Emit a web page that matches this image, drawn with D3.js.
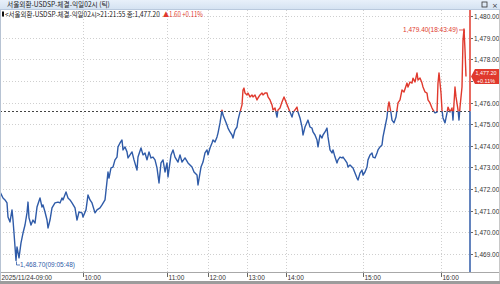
<!DOCTYPE html>
<html>
<head>
<meta charset="utf-8">
<script src="https://cdn.jsdelivr.net/npm/d3@7"></script>
<style>
  body { margin: 0; background: #fff; }
  svg { display: block; }
</style>
</head>
<body>
<svg id="chart" width="500" height="284"></svg>
<script>
// tick sequence number (x) and traded price (y)
var seq = [0, 30, 50, 70, 80, 100, 120, 130, 140, 160, 170, 190, 210, 230, 250, 270, 280, 290, 310, 330,
  350, 370, 400, 420, 430, 450, 470, 480, 500, 520, 550, 580, 600, 620, 630, 660, 680, 700, 720, 750,
  770, 790, 820, 830, 860, 880, 900, 920, 950, 970, 1000, 1020, 1050, 1080, 1090, 1110, 1130, 1150, 1170, 1180,
  1200, 1220, 1230, 1250, 1270, 1280, 1300, 1320, 1340, 1370, 1380, 1410, 1430, 1450, 1470, 1490, 1510, 1530, 1550, 1570,
  1590, 1610, 1630, 1650, 1670, 1680, 1710, 1730, 1750, 1780, 1800, 1820, 1850, 1880, 1920, 1940, 1970, 1980, 2010, 2030,
  2050, 2070, 2080, 2100, 2120, 2130, 2150, 2170, 2180, 2200, 2220, 2230, 2250, 2270, 2280, 2300, 2320, 2330, 2350, 2370,
  2380, 2400, 2420, 2430, 2440, 2450, 2470, 2480, 2500, 2520, 2530, 2550, 2570, 2580, 2600, 2620, 2630, 2650, 2670, 2680,
  2700, 2720, 2730, 2750, 2770, 2780, 2800, 2820, 2840, 2860, 2880, 2900, 2920, 2930, 2950, 2970, 2980, 3000, 3020, 3030,
  3050, 3080, 3100, 3120, 3130, 3150, 3170, 3180, 3200, 3220, 3230, 3250, 3270, 3280, 3300, 3320, 3330, 3350, 3370, 3380,
  3400, 3420, 3430, 3450, 3470, 3480, 3500, 3520, 3530, 3550, 3570, 3580, 3600, 3620, 3630, 3650, 3670, 3680, 3700, 3720,
  3730, 3750, 3770, 3780, 3800, 3820, 3830, 3850, 3870, 3880, 3890, 3910, 3920, 3940, 3960, 3970, 3980, 4000, 4020, 4040,
  4070, 4080, 4100, 4120, 4130, 4150, 4170, 4180, 4200, 4220, 4230, 4250, 4270, 4280, 4300, 4320, 4330, 4350, 4370, 4380,
  4390, 4410, 4420, 4430, 4450, 4470, 4480, 4500, 4520, 4530, 4550, 4560, 4580, 4590, 4600, 4620, 4630, 4640, 4650, 4660];

var price = [1471.87, 1471.59, 1471.50, 1471.36, 1470.71, 1470.48, 1471.04, 1470.57, 1469.97, 1468.70, 1469.33, 1468.82, 1469.51, 1469.97, 1470.34, 1470.90, 1471.40, 1470.67, 1470.34, 1470.57,
  1470.43, 1471.17, 1471.59, 1471.17, 1471.27, 1470.94, 1470.57, 1470.20, 1470.57, 1471.13, 1471.36, 1471.40, 1471.36, 1471.59, 1471.50, 1471.87, 1471.59, 1471.50, 1471.36, 1471.13,
  1470.57, 1470.94, 1470.90, 1470.71, 1471.04, 1471.73, 1471.50, 1471.36, 1470.90, 1471.04, 1471.13, 1471.27, 1471.50, 1472.79, 1472.51, 1472.98, 1473.02, 1473.35, 1473.48, 1473.95,
  1474.13, 1474.27, 1473.81, 1473.95, 1473.72, 1473.44, 1473.58, 1473.72, 1473.35, 1472.88, 1473.48, 1473.90, 1473.58, 1473.67, 1473.35, 1473.72, 1473.44, 1473.48, 1473.35, 1472.98,
  1472.28, 1473.21, 1473.35, 1472.79, 1473.21, 1472.56, 1473.58, 1473.81, 1473.48, 1473.25, 1473.58, 1473.25, 1473.44, 1473.21, 1473.02, 1472.79, 1472.65, 1472.19, 1473.02, 1473.25,
  1473.67, 1473.81, 1473.58, 1473.90, 1474.13, 1474.27, 1474.18, 1474.41, 1474.59, 1475.06, 1475.65, 1475.42, 1475.19, 1474.96, 1474.82, 1474.64, 1474.50, 1474.36, 1474.73, 1474.87,
  1475.19, 1475.56, 1475.89, 1476.58, 1476.67, 1476.44, 1476.35, 1476.44, 1476.26, 1476.35, 1476.26, 1476.35, 1476.12, 1476.21, 1476.35, 1476.44, 1476.35, 1476.44, 1476.44, 1476.26,
  1476.12, 1475.89, 1475.66, 1475.75, 1475.33, 1475.66, 1475.75, 1476.03, 1476.26, 1476.03, 1475.79, 1475.56, 1475.33, 1475.52, 1475.66, 1475.79, 1475.56, 1475.29, 1474.87, 1474.50,
  1474.87, 1475.19, 1474.87, 1474.82, 1474.64, 1474.50, 1474.27, 1473.95, 1474.50, 1474.36, 1474.50, 1474.64, 1474.82, 1474.41, 1473.81, 1473.67, 1473.81, 1473.48, 1473.21, 1473.35,
  1473.48, 1473.44, 1473.48, 1473.35, 1473.21, 1473.02, 1473.11, 1473.02, 1472.98, 1472.74, 1472.51, 1472.42, 1472.74, 1472.88, 1472.65, 1472.79, 1473.02, 1473.35, 1473.58, 1473.67,
  1473.48, 1473.44, 1473.67, 1473.81, 1473.95, 1474.04, 1474.41, 1474.87, 1475.33, 1475.79, 1476.03, 1475.52, 1475.19, 1475.06, 1475.33, 1475.66, 1475.98, 1476.12, 1476.58, 1476.49,
  1476.90, 1476.72, 1476.95, 1476.90, 1477.13, 1476.95, 1477.37, 1477.04, 1477.13, 1476.90, 1476.72, 1476.49, 1476.44, 1476.12, 1475.98, 1475.75, 1475.66, 1475.52, 1475.56, 1476.90,
  1477.37, 1476.44, 1475.66, 1475.29, 1475.06, 1475.52, 1475.79, 1475.56, 1475.75, 1475.19, 1476.72, 1476.26, 1475.66, 1475.19, 1475.79, 1476.72, 1478.89, 1479.40, 1478.43, 1477.20];

var hourLabels = ["2025/11/24-09:00", "10:00", "11:00", "12:00", "13:00", "14:00", "15:00", "16:00"];
var hourSeq = [0, 830, 1670, 2080, 2470, 2860, 3630, 4410];
var priceTicks = [1469, 1470, 1471, 1472, 1473, 1474, 1475, 1476, 1477, 1478, 1479, 1480];

var prevClose = 1475.60;
var lastPrice = 1477.20;
var lastTime = "21:21:55";
var changeAbs = 1.60;
var changePct = 0.11;
var highLabel = "1,479.40(18:43:49)";
var lowLabel = "1,468.70(09:05:48)";

var title = "서울외환-USDSP-체결-익일02시 (틱)";
var legendName = "<서울외환-USDSP-체결-익일02시>";

var UP = "#e0392d", DOWN = "#2f5ba8";
var fmt = d3.format(",.2f");

var svg = d3.select("#chart");
var plotTop = 10, plotBottom = 272, plotRight = 470;

var x = d3.scaleLinear().domain([0, 4700]).range([0, plotRight]);
var y = d3.scaleLinear().domain([1469, 1480]).range([254, 16]);

var data = seq.map(function (s, i) { return { s: s, p: price[i] }; });

// squeeze a text horizontally so it spans the given width
function fitText(sel, left, width) {
  var w = sel.node().getComputedTextLength();
  sel.attr("x", 0).attr("transform", "translate(" + left + ",0) scale(" + (width / w) + ",1)");
}

// title bar
var grad = svg.append("defs").append("linearGradient")
  .attr("id", "tb").attr("x1", 0).attr("y1", 0).attr("x2", 0).attr("y2", 1);
grad.append("stop").attr("offset", "0%").attr("stop-color", "#e8f0fa");
grad.append("stop").attr("offset", "100%").attr("stop-color", "#d3e1f1");
svg.append("rect").attr("x", 0).attr("y", 0).attr("width", 500).attr("height", 10).attr("fill", "url(#tb)");
svg.append("line").attr("x1", 0).attr("x2", 500).attr("y1", 9.5).attr("y2", 9.5).attr("stroke", "#b9c9dd");
var titleText = svg.append("text").attr("y", 7.2)
  .attr("font-family", "Noto Sans CJK KR").attr("font-size", 7).attr("fill", "#222")
  .text(title);
fitText(titleText, 7, 103);
svg.append("rect").attr("x", 482).attr("y", 2).attr("width", 5).attr("height", 5)
  .attr("fill", "none").attr("stroke", "#333").attr("stroke-width", 0.8);
svg.append("text").attr("x", 492).attr("y", 7.5).attr("font-family", "DejaVu Sans").attr("font-size", 7)
  .attr("fill", "#333").text("×");

// gridlines
svg.append("g").selectAll("line").data(priceTicks).enter().append("line")
  .attr("x1", 0).attr("x2", plotRight)
  .attr("y1", function (d) { return Math.round(y(d)) + 0.5; })
  .attr("y2", function (d) { return Math.round(y(d)) + 0.5; })
  .attr("stroke", "#cfcfcf").attr("stroke-dasharray", "1,2");
svg.append("g").selectAll("line").data(hourSeq.slice(1)).enter().append("line")
  .attr("x1", function (d) { return Math.round(x(d)) + 0.5; })
  .attr("x2", function (d) { return Math.round(x(d)) + 0.5; })
  .attr("y1", plotTop).attr("y2", plotBottom)
  .attr("stroke", "#cfcfcf").attr("stroke-dasharray", "1,2");

// previous close reference
var yBase = y(prevClose);
svg.append("line").attr("x1", 0).attr("x2", plotRight)
  .attr("y1", Math.round(yBase) + 0.5).attr("y2", Math.round(yBase) + 0.5)
  .attr("stroke", "#444").attr("stroke-dasharray", "2,2");

// price line, red above previous close and blue below
var defs = svg.select("defs");
defs.append("clipPath").attr("id", "above").append("rect")
  .attr("x", 0).attr("y", 0).attr("width", plotRight).attr("height", yBase);
defs.append("clipPath").attr("id", "below").append("rect")
  .attr("x", 0).attr("y", yBase).attr("width", plotRight).attr("height", plotBottom - yBase);

var line = d3.line()
  .x(function (d) { return x(d.s); })
  .y(function (d) { return y(d.p); });

svg.append("path").datum(data).attr("d", line).attr("clip-path", "url(#below)")
  .attr("fill", "none").attr("stroke", DOWN).attr("stroke-width", 1.4).attr("stroke-linejoin", "round");
svg.append("path").datum(data).attr("d", line).attr("clip-path", "url(#above)")
  .attr("fill", "none").attr("stroke", UP).attr("stroke-width", 1.4).attr("stroke-linejoin", "round");

// current position marker
svg.append("line").attr("x1", plotRight).attr("x2", plotRight).attr("y1", plotTop).attr("y2", yBase)
  .attr("stroke", UP).attr("stroke-width", 1.5);
svg.append("line").attr("x1", plotRight).attr("x2", plotRight).attr("y1", yBase).attr("y2", plotBottom)
  .attr("stroke", DOWN).attr("stroke-width", 1.5);

// high / low annotations
var hi = data[d3.maxIndex(data, function (d) { return d.p; })];
var lo = data[d3.minIndex(data, function (d) { return d.p; })];
svg.append("path")
  .attr("d", "M" + (x(hi.s) - 5) + "," + (y(hi.p) + 1) + "H" + (x(hi.s) + 0.5) + "V" + (y(hi.p) + 4))
  .attr("fill", "none").attr("stroke", UP).attr("stroke-width", 0.8);
svg.append("text").attr("x", x(hi.s) - 6).attr("y", y(hi.p) + 3.5).attr("text-anchor", "end")
  .attr("font-family", "Liberation Sans").attr("font-size", 6.5).attr("fill", UP).text(highLabel);
svg.append("path")
  .attr("d", "M" + (x(lo.s) + 0.5) + "," + (y(lo.p) + 1) + "V" + (y(lo.p) + 4.5) + "H" + (x(lo.s) + 4))
  .attr("fill", "none").attr("stroke", DOWN).attr("stroke-width", 0.8);
svg.append("text").attr("x", x(lo.s) + 4).attr("y", y(lo.p) + 7)
  .attr("font-family", "Liberation Sans").attr("font-size", 6.5).attr("fill", DOWN).text(lowLabel);

// legend line
svg.append("rect").attr("x", 2).attr("y", 11.5).attr("width", 2).attr("height", 5).attr("fill", "#111");
var legendMain = svg.append("text").attr("y", 17)
  .attr("font-family", "Noto Sans CJK KR").attr("font-size", 7).attr("fill", "#222")
  .text(legendName + lastTime + " 종:" + fmt(lastPrice));
fitText(legendMain, 5, 155);
var legendChg = svg.append("text").attr("y", 17)
  .attr("font-family", "Noto Sans CJK KR").attr("font-size", 7).attr("fill", UP)
  .text("▲" + changeAbs.toFixed(2) + " +" + changePct.toFixed(2) + "%");
fitText(legendChg, 163, 40);

// x axis
svg.append("line").attr("x1", 0).attr("x2", 500).attr("y1", plotBottom + 0.5).attr("y2", plotBottom + 0.5)
  .attr("stroke", "#a8a8a8");
var xt = svg.append("g").selectAll("g").data(hourSeq).enter().append("g")
  .attr("transform", function (d) { return "translate(" + (Math.round(x(d)) + 0.5) + ",0)"; });
xt.append("line").attr("y1", plotBottom + 1).attr("y2", plotBottom + 5).attr("stroke", "#666");
xt.append("text").attr("x", 1).attr("y", plotBottom + 8)
  .attr("font-family", "Liberation Sans").attr("font-size", 6.5).attr("fill", "#333")
  .text(function (d, i) { return hourLabels[i]; });
svg.append("rect").attr("x", 0).attr("y", 281).attr("width", 500).attr("height", 3).attr("fill", "#9c9c9c");

// y axis (right); labels hidden under the last-price tag are skipped
var yl = y(lastPrice);
var yt = svg.append("g").selectAll("g").data(priceTicks).enter().append("g")
  .attr("transform", function (d) { return "translate(" + plotRight + "," + (Math.round(y(d)) + 0.5) + ")"; });
yt.append("line").attr("x1", 1).attr("x2", 3).attr("stroke", "#666");
yt.filter(function (d) { return Math.abs(y(d) - yl) > 10; })
  .append("text").attr("x", 4).attr("y", 2.3)
  .attr("font-family", "Liberation Sans").attr("font-size", 6.5).attr("fill", "#333")
  .text(function (d) { return fmt(d); });

// last price tag
svg.append("path")
  .attr("d", "M" + (plotRight + 1) + "," + yl + "L" + (plotRight + 5) + "," + (yl - 7.5) + "H499V" + (yl + 7.5) + "H" + (plotRight + 5) + "Z")
  .attr("fill", UP);
svg.append("text").attr("x", 486).attr("y", yl - 1.6).attr("text-anchor", "middle")
  .attr("font-family", "Liberation Sans").attr("font-size", 5.4).attr("fill", "#fff").text(fmt(lastPrice));
svg.append("text").attr("x", 486).attr("y", yl + 6).attr("text-anchor", "middle")
  .attr("font-family", "Liberation Sans").attr("font-size", 5.4).attr("fill", "#fff").text("+" + changePct.toFixed(2) + "%");

// frame edges
svg.append("line").attr("x1", 0.5).attr("x2", 0.5).attr("y1", 10).attr("y2", 281).attr("stroke", "#b7c3d3");
svg.append("line").attr("x1", 499.5).attr("x2", 499.5).attr("y1", 10).attr("y2", 281).attr("stroke", "#c8c8c8");
</script>
</body>
</html>
